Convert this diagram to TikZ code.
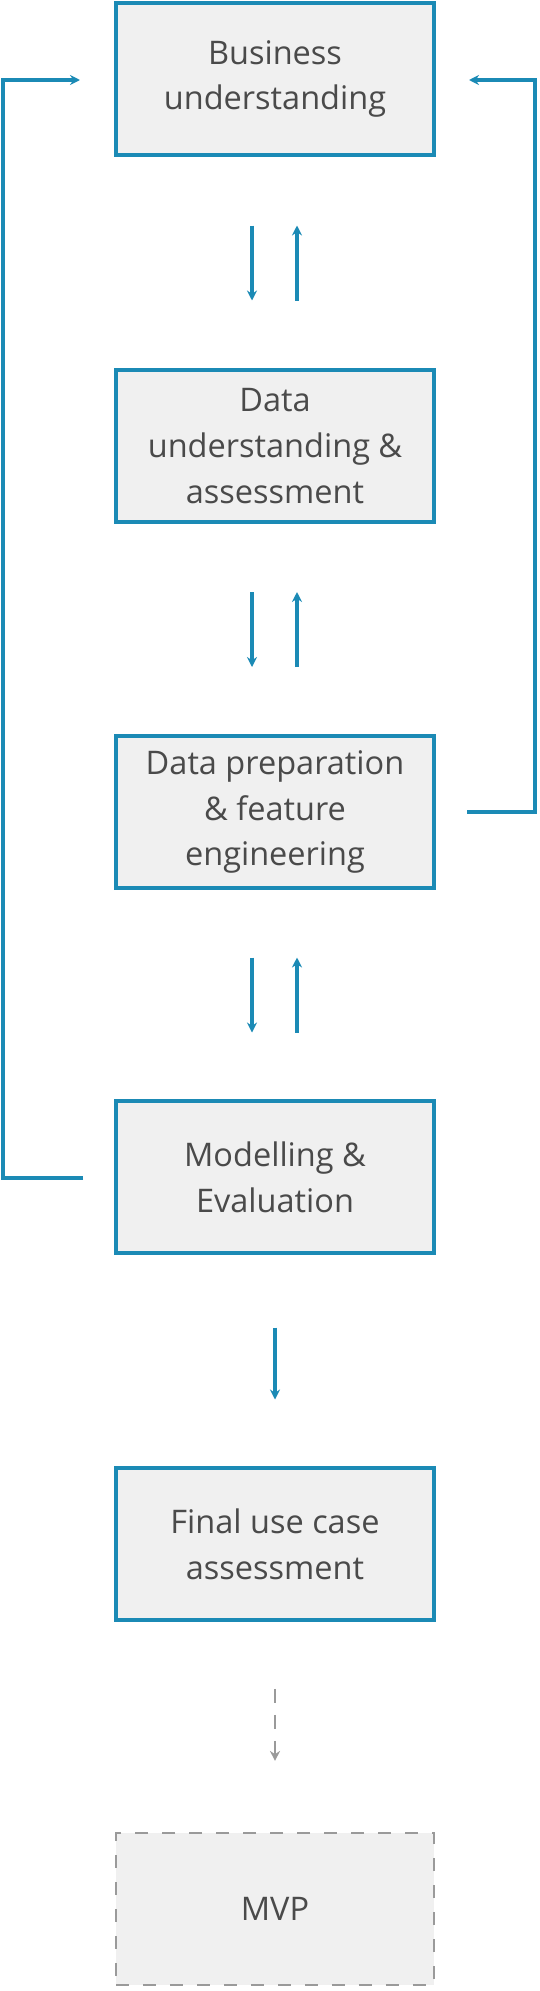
\documentclass[tikz,border=0pt]{standalone}
\usepackage{fontspec}
\setmainfont{Open Sans}
\usetikzlibrary{arrows.meta,calc}
\definecolor{flowblue}{HTML}{1B8AB5}
\definecolor{boxgray}{HTML}{F0F0F0}
\definecolor{textgray}{HTML}{4A4A4A}
\definecolor{dashgray}{HTML}{9A9A9A}

\begin{document}
\begin{tikzpicture}[x=0.02cm, y=-0.02cm, line join=miter, >={Stealth[length=2mm,width=2mm]},
	stage/.style={draw=flowblue, line width=0.08cm, fill=boxgray, minimum width=6.36cm, minimum height=3.04cm,
		align=center, text=textgray, font=\fontsize{18.5}{26}\selectfont},
	goal/.style={stage, draw=dashgray, line width=0.045cm, dash pattern=on 0.26cm off 0.28cm},
	flow/.style={draw=flowblue, line width=0.08cm, ->},
	maybe/.style={flow, draw=dashgray, line width=0.05cm, dash pattern=on 0.28cm off 0.24cm}]
	\useasboundingbox (0,0) rectangle (540,1991);
	
	\node[stage] (bu) at (275,79) {Business\\understanding};
	\node[stage] (du) at (275,446) {Data\\understanding \&\\assessment};
	\node[stage] (dp) at (275,812) {Data preparation\\\& feature\\engineering};
	\node[stage] (me) at (275,1177) {Modelling \&\\Evaluation};
	\node[stage] (fa) at (275,1544) {Final use case\\assessment};
	\node[goal] (mvp) at (275,1909) {MVP};
	
	\path (83,1178) coordinate (me-out)
		(3,80) coordinate (left-top)
		(80,80) coordinate (bu-left)
		(467,812) coordinate (dp-out)
		(535,80) coordinate (right-top)
		(469,80) coordinate (bu-right);
	
	\draw[flow] (me-out) -| (left-top) -- (bu-left);
	\draw[flow] (dp-out) -| (right-top) -- (bu-right);
	
	\foreach \a/\b in {bu/du,du/dp,dp/me} {
		\path ($(\a.south)!0.5!(\b.north)$) coordinate (\a-\b);
		\draw[flow] ([shift={(-23,-37)}]\a-\b) -- ([shift={(-23,38)}]\a-\b);
		\draw[flow] ([shift={(22,38)}]\a-\b) -- ([shift={(22,-37)}]\a-\b);
	}
	
	\path ($(me.south)!0.5!(fa.north)$) coordinate (me-fa)
		($(fa.south)!0.5!(mvp.north)$) coordinate (fa-mvp);
	\draw[flow] ([yshift=0.66cm]me-fa) -- ([yshift=-0.78cm]me-fa);
	\draw[maybe] ([yshift=0.76cm]fa-mvp) -- ([yshift=-0.68cm]fa-mvp);
\end{tikzpicture}
\end{document}
